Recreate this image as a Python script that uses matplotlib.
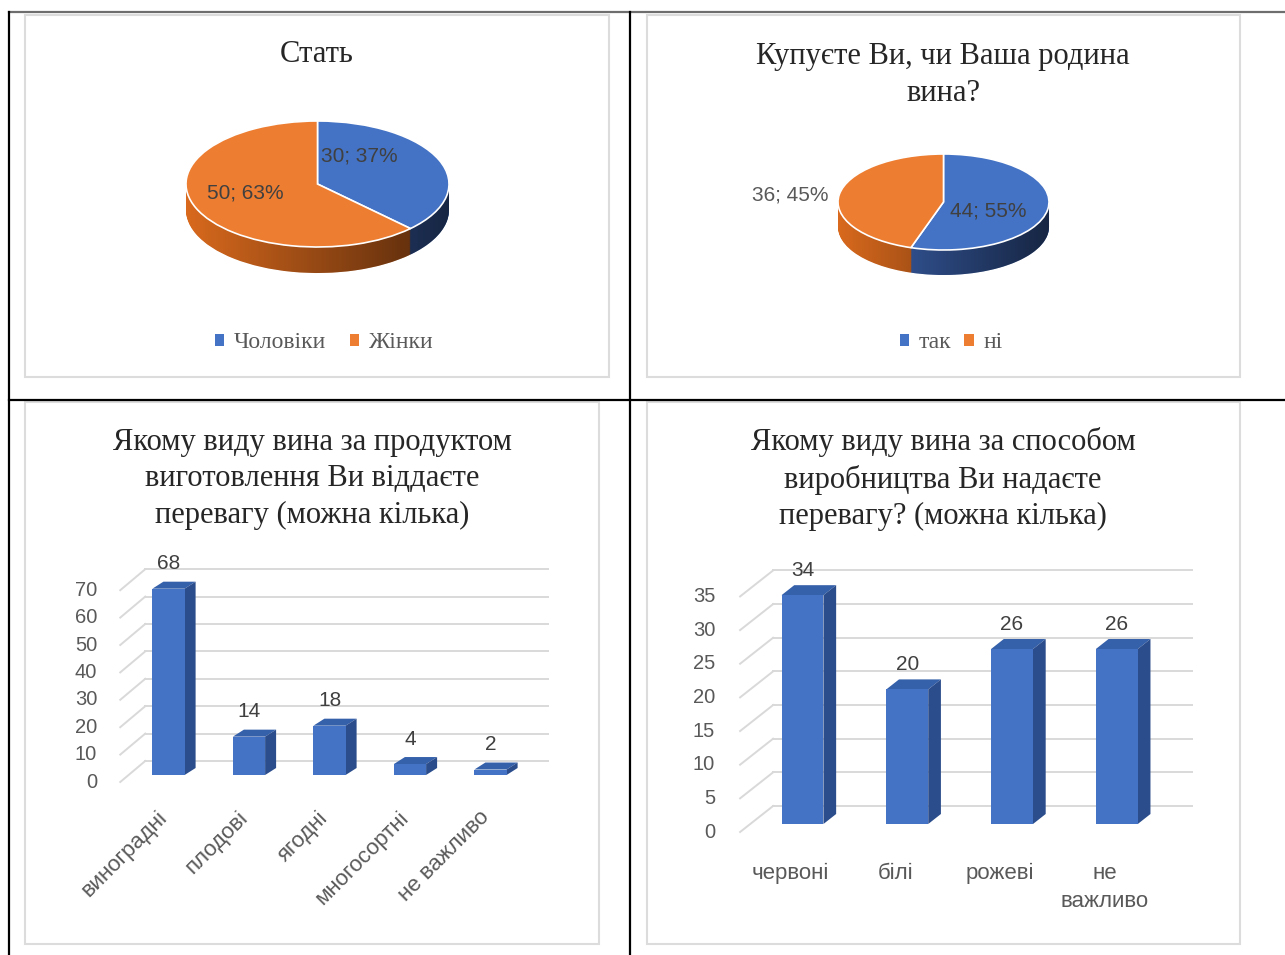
import numpy as np
import matplotlib
matplotlib.use("Agg")
import matplotlib.pyplot as plt
from matplotlib.patches import Polygon, Rectangle
from matplotlib.colors import LinearSegmentedColormap

# ---------------- data ----------------
sex_labels = ["Чоловіки", "Жінки"]
sex_values = [30, 50]
sex_pct = [37, 63]

buy_labels = ["так", "ні"]
buy_values = [44, 36]
buy_pct = [55, 45]

prod_cats = ["виноградні", "плодові", "ягодні", "многосортні", "не важливо"]
prod_values = [68, 14, 18, 4, 2]
prod_ticks = [0, 10, 20, 30, 40, 50, 60, 70]

method_cats = ["червоні", "білі", "рожеві", "не\nважливо"]
method_values = [34, 20, 26, 26]
method_ticks = [0, 5, 10, 15, 20, 25, 30, 35]

BLUE = "#4472C4"
ORANGE = "#ED7D31"
SERIF = "Liberation Serif"
SANS = "Liberation Sans"

W, H = 1285, 955
fig = plt.figure(figsize=(W / 100, H / 100), dpi=100)


def px_axes(x0, y0, x1, y1):
    return fig.add_axes([x0 / W, 1 - y1 / H, (x1 - x0) / W, (y1 - y0) / H])


# ---------------- table frame and panel borders ----------------
bg = px_axes(0, 0, W, H)
bg.set_xlim(0, W)
bg.set_ylim(H, 0)
bg.axis("off")
bg.plot([9, W], [12.5, 12.5], color="#6e6e6e", lw=1.6)
bg.plot([9, 9], [12, H], color="black", lw=1.6)
bg.plot([630, 630], [12, H], color="black", lw=1.6)
bg.plot([9, W], [399.5, 399.5], color="black", lw=1.6)
for (x0, y0, x1, y1) in [(25, 15, 609, 377), (647, 15, 1240, 377),
                         (25, 402, 599, 944), (647, 402, 1240, 944)]:
    bg.add_patch(Rectangle((x0, y0), x1 - x0, y1 - y0, fill=False,
                           edgecolor="#dcdcdc", lw=1.5))


def title(x, y, s):
    fig.text(x / W, 1 - y / H, s, ha="center", va="center", fontsize=22,
             family=SERIF, color="#262626", linespacing=1.35)


shade = LinearSegmentedColormap.from_list("shade", [(0, 0, 0, 0.0), (0, 0, 0, 0.62)])


def pie3d(cx, cy, rx, ry, depth, values, colors, side_colors):
    m = 4
    ax = px_axes(cx - rx - m, cy - ry - m, cx + rx + m, cy + ry + depth + m)
    d = depth / ry
    for k in np.linspace(d, 0, 40):
        ax.pie(values, colors=side_colors, startangle=90, counterclock=False,
               center=(0, -k), frame=True, wedgeprops=dict(linewidth=0))
    t = np.linspace(np.pi, 2 * np.pi, 200)
    band = np.vstack([np.column_stack([np.cos(t), -d + np.sin(t)]),
                      np.column_stack([np.cos(t[::-1]), np.sin(t[::-1])])])
    clip = Polygon(band, closed=True, transform=ax.transData)
    im = ax.imshow(np.linspace(0, 1, 256).reshape(1, -1), extent=(-1, 1, -1 - d, 1),
                   cmap=shade, aspect="auto", zorder=1.5, interpolation="bilinear")
    im.set_clip_path(clip)
    wedges, _ = ax.pie(values, colors=colors, startangle=90, counterclock=False,
                       frame=True, wedgeprops=dict(edgecolor="white", linewidth=1.2))
    for w in wedges:
        w.set_zorder(2)
    ax.set_aspect("auto")
    ax.set_xlim(-1 - m / rx, 1 + m / rx)
    ax.set_ylim(-1 - d - m / ry, 1 + m / ry)
    ax.axis("off")
    return ax, wedges


def pie_legend(ax, wedges, labels, x, y, colsp):
    leg = ax.legend(wedges, labels, loc="center", bbox_to_anchor=(x / W, 1 - y / H),
                    bbox_transform=fig.transFigure, ncol=len(labels), frameon=False,
                    handlelength=0.4, handleheight=0.4, handletextpad=0.4,
                    columnspacing=colsp, prop={"family": SERIF, "size": 17})
    for txt in leg.get_texts():
        txt.set_color("#595959")
    for h in leg.legend_handles:
        h.set_edgecolor("none")


# ---------------- panel 1: pie ----------------
title(317, 55, "Стать")
ax1, w1 = pie3d(317.5, 184, 131.5, 63, 26, sex_values, [BLUE, ORANGE], ["#3B62AE", "#D8691D"])
lab_pos1 = [(0.32, 0.44), (-0.55, -0.14)]
for (px, py), v, p in zip(lab_pos1, sex_values, sex_pct):
    ax1.text(px, py, f"{v}; {p}%", ha="center", va="center", fontsize=15,
             family=SANS, color="#404040", zorder=5)
pie_legend(ax1, w1, sex_labels, 324, 343, 1.0)

# ---------------- panel 2: pie ----------------
title(943, 75, "Купуєте Ви, чи Ваша родина\nвина?")
ax2, w2 = pie3d(943.5, 202, 105.5, 48, 25, buy_values, [BLUE, ORANGE], ["#3B62AE", "#D8691D"])
lab_pos2 = [(0.42, -0.19), (-1.455, 0.15)]
lab_col2 = ["#404040", "#595959"]
for (px, py), v, p, c in zip(lab_pos2, buy_values, buy_pct, lab_col2):
    ax2.text(px, py, f"{v}; {p}%", ha="center", va="center", fontsize=15,
             family=SANS, color=c, zorder=5)
pie_legend(ax2, w2, buy_labels, 951, 343, 0.55)


# ---------------- 3D column charts ----------------
def bar3d(x0, x1, y0, ppu, ymax, values, cats, ticks, bar_d, front_o, back_o,
          tick_pad, xlab_off, rot):
    n = len(values)
    ax = px_axes(x0, y0 - ymax * ppu, x1, y0)
    ax.set_xlim(-0.5, n - 0.5)
    ax.set_ylim(0, ymax)
    ax.axis("off")
    sx = (x1 - x0) / n
    sy = ppu
    xa, xb = -0.5, n - 0.5
    # back wall grid + left floor lines
    for t in ticks:
        ax.plot([xa + back_o[0] / sx, xb + back_o[0] / sx],
                [t + back_o[1] / sy, t + back_o[1] / sy],
                color="#d9d9d9", lw=1.4, zorder=0.5, clip_on=False)
        ax.plot([xa + front_o[0] / sx, xa + back_o[0] / sx],
                [t + front_o[1] / sy, t + back_o[1] / sy],
                color="#d9d9d9", lw=1.4, zorder=0.5, clip_on=False)
        ax.annotate(str(t), (xa, t), xytext=(front_o[0] - tick_pad, front_o[1]),
                    textcoords="offset pixels", ha="right", va="center",
                    fontsize=14.5, family=SANS, color="#595959", annotation_clip=False)
    bw = 0.4
    ddx, ddy = bar_d[0] / sx, bar_d[1] / sy
    xs = np.arange(n)
    ax.bar(xs, values, width=bw, color=BLUE, zorder=3, clip_on=False)
    for x, v in zip(xs, values):
        l, r = x - bw / 2, x + bw / 2
        ax.add_patch(Polygon([(l, v), (r, v), (r + ddx, v + ddy), (l + ddx, v + ddy)],
                             closed=True, facecolor="#3560AA", edgecolor="none",
                             zorder=2.5, clip_on=False))
        ax.add_patch(Polygon([(r, 0), (r, v), (r + ddx, v + ddy), (r + ddx, ddy)],
                             closed=True, facecolor="#2B4D8C", edgecolor="none",
                             zorder=2.5, clip_on=False))
        ax.annotate(str(v), (x, v), xytext=(0, 25), textcoords="offset pixels",
                    ha="center", va="center", fontsize=15, family=SANS,
                    color="#404040", annotation_clip=False)
    for x, c in zip(xs, cats):
        if rot:
            ax.annotate(c, (x, 0), xytext=xlab_off, textcoords="offset pixels",
                        ha="right", va="top", rotation=45, rotation_mode="default",
                        fontsize=16, family=SANS, color="#595959", annotation_clip=False)
        else:
            ax.annotate(c, (x, 0), xytext=xlab_off, textcoords="offset pixels",
                        ha="center", va="top", fontsize=16, family=SANS,
                        color="#595959", linespacing=1.45, annotation_clip=False)
    return ax


title(312, 479, "Якому виду вина за продуктом\nвиготовлення Ви віддаєте\nперевагу (можна кілька)")
bar3d(128.25, 530.75, 775, 2.74, 80, prod_values, prod_cats, prod_ticks,
      (11, 7), (-8, -7), (17, 14), 23, (3, -32), True)

title(943, 479, "Якому виду вина за способом\nвиробництва Ви надаєте\nперевагу? (можна кілька)")
bar3d(750.1, 1169.2, 824, 6.73, 40, method_values, method_cats, method_ticks,
      (12.7, 10), (-10, -8), (23, 18), 25, (-12, -39), False)

fig.savefig("out.png", dpi=100, facecolor="white")
